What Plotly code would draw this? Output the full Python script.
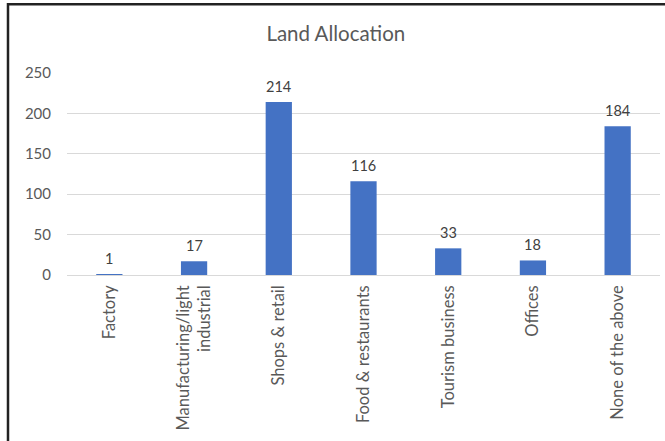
import plotly.graph_objects as go

categories = ["Factory", "Manufacturing/light<br>industrial", "Shops & retail",
              "Food & restaurants", "Tourism business", "Offices", "None of the above"]
values = [1, 17, 214, 116, 33, 18, 184]
title = "Land Allocation"
y_ticks = [0, 50, 100, 150, 200, 250]

FONT = "Lato, 'Open Sans', sans-serif"

fig = go.Figure()
fig.add_trace(go.Bar(
    x=categories, y=values,
    marker=dict(color="#4472C4", line=dict(width=0)),
    width=0.31,
))
for c, v in zip(categories, values):
    fig.add_annotation(x=c, y=v, text=str(v), showarrow=False,
                       yanchor="bottom", yshift=5,
                       font=dict(family=FONT, size=14.5, color="#404040"))

fig.update_layout(
    width=665, height=441,
    margin=dict(l=67, r=5, t=73, b=166),
    paper_bgcolor="white", plot_bgcolor="white",
    showlegend=False,
    title=dict(text=title, x=0.505, xanchor="center", y=0.923, yanchor="middle",
               font=dict(family=FONT, size=20.5, color="#595959")),
    font=dict(family=FONT, color="#595959", size=13),
)
fig.update_yaxes(range=[0, 250], tickvals=y_ticks, showgrid=True, gridcolor="#d9d9d9",
                 gridwidth=1, zeroline=True, zerolinecolor="#d9d9d9", zerolinewidth=1,
                 showline=False, ticks="", ticklabelstandoff=15,
                 tickfont=dict(family=FONT, size=15, color="#595959"))
fig.update_xaxes(tickangle=-90, showline=False, ticks="", showgrid=False,
                 ticklabelstandoff=6,
                 tickfont=dict(family=FONT, size=16.5, color="#595959"))

fig.add_shape(type="rect", xref="paper", yref="paper",
              x0=-0.0995, x1=1.5, y0=-1.5, y1=1.34,
              line=dict(color="#222222", width=2.5), fillcolor="rgba(0,0,0,0)",
              layer="above")

fig.write_html("out.html")
